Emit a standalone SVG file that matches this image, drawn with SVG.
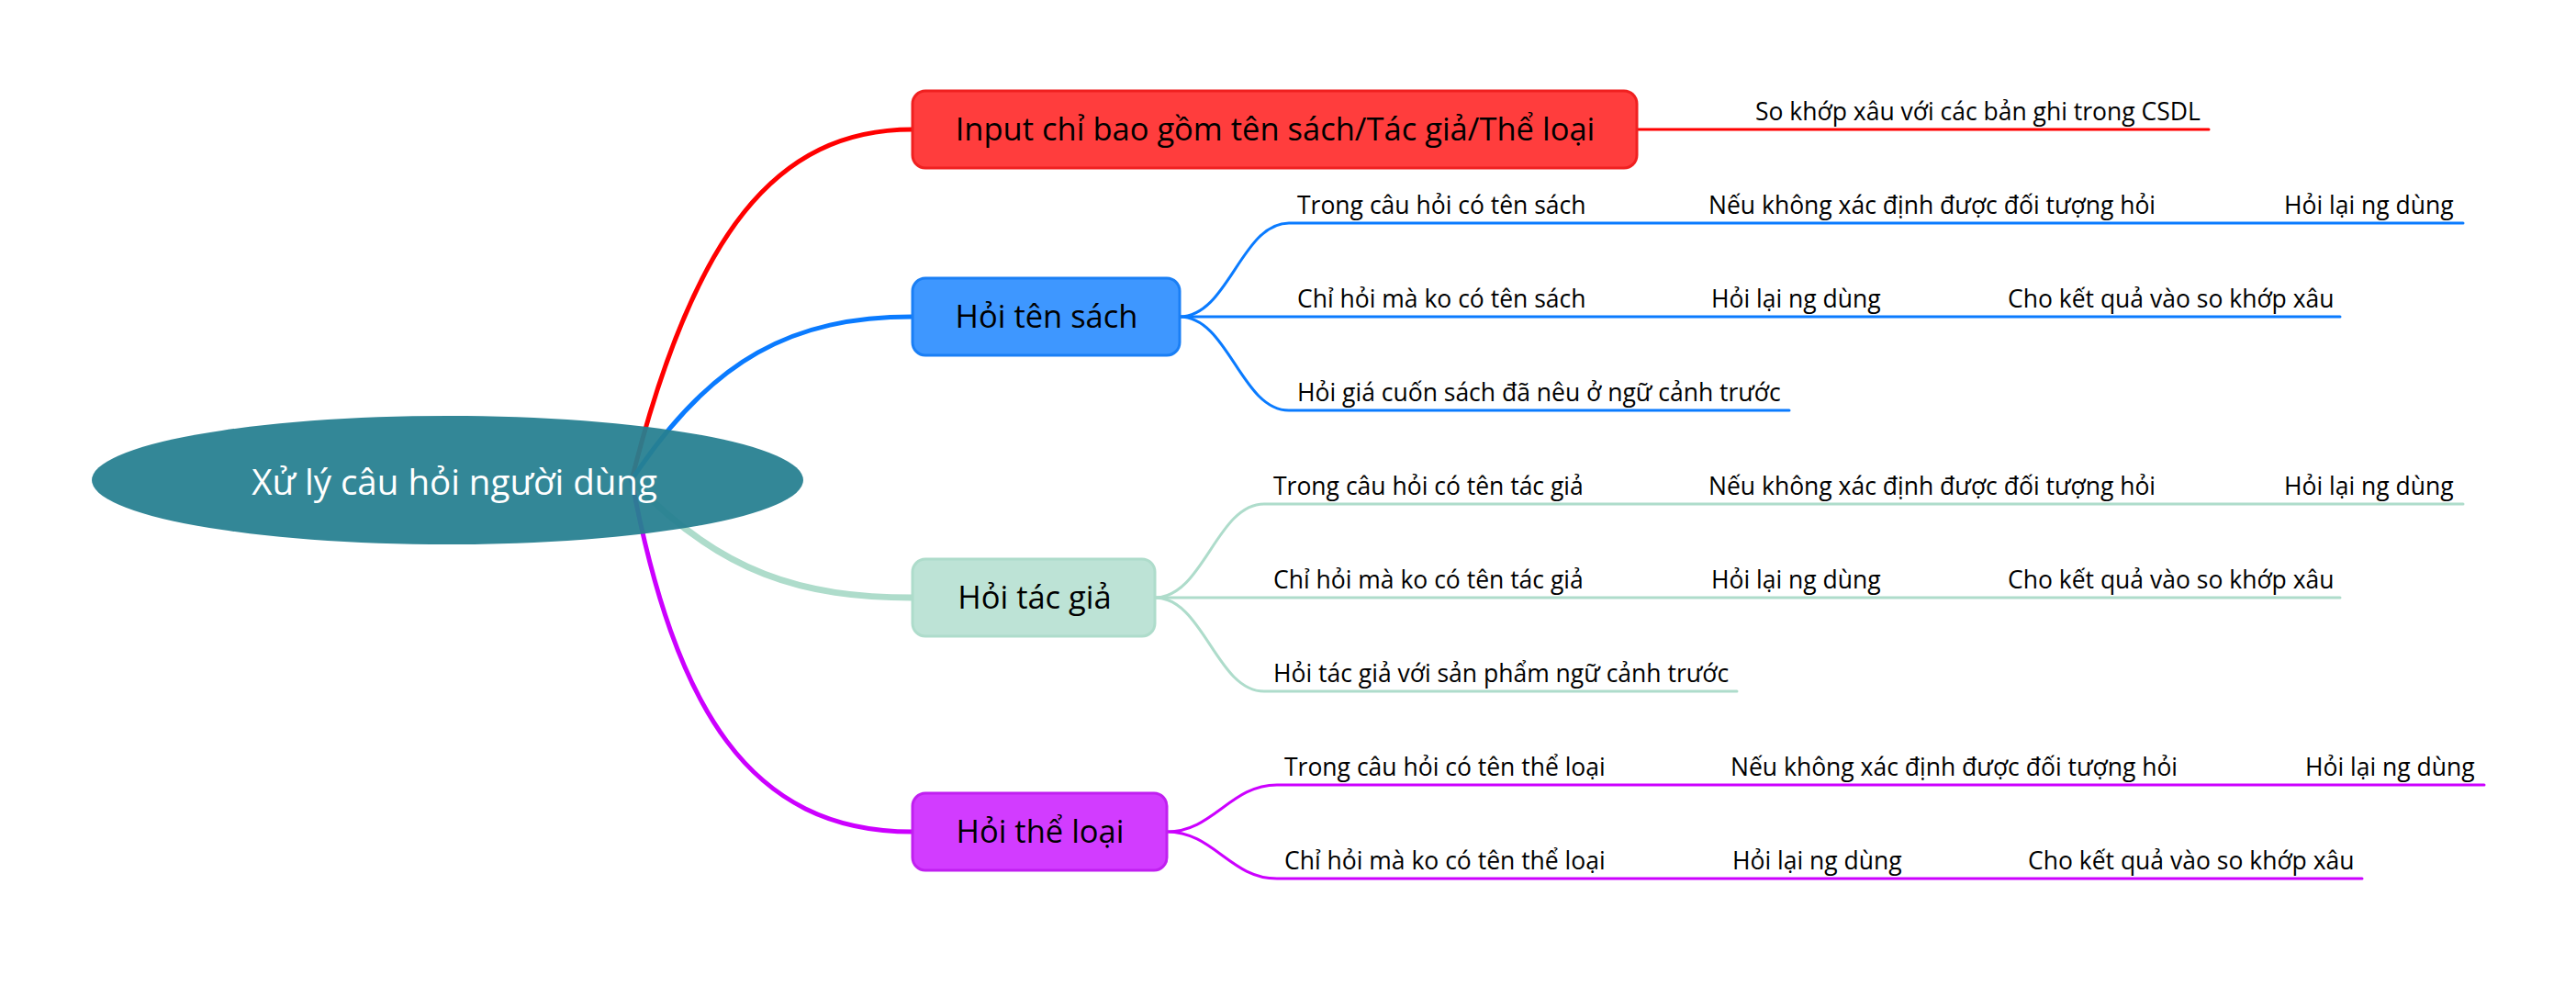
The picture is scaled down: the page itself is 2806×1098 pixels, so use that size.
<svg xmlns="http://www.w3.org/2000/svg" width="2806" height="1098" viewBox="0 0 2806 1098">
<style>
.t{font-family:"Open Sans","Noto Sans","DejaVu Sans",sans-serif;fill:#000}
.s{font-size:26.5px}
.b{font-size:34.5px}
.c{font-size:38.5px;fill:#fff}
.line{fill:none;stroke-linecap:round}
.main{stroke-width:5}
.sub{stroke-width:3}
.red{stroke:#FF0000}
.blue{stroke:#0A7BFF}
.green{stroke:#AEDCCB}
.purple{stroke:#CC00FF}
</style>
<rect width="2806" height="1098" fill="#fff"/>
<g id="connectors">
<path class="line main red" d="M688,523 C755,255 845,141 994,141"/>
<path class="line main blue" d="M688,523 C775,390 865,345 994,345"/>
<path class="line main green" style="stroke-width:7" d="M688,523 C785,625 875,651 994,651"/>
<path class="line main purple" d="M688,523 C735,770 815,906 994,906"/>
<path class="line sub red" d="M1783,141 L2406,141"/>
<path class="line sub blue" d="M1285,345 C1338,345 1352,243 1404,243 L2683,243"/>
<path class="line sub blue" d="M1285,345 L2549,345"/>
<path class="line sub blue" d="M1285,345 C1338,345 1352,447 1404,447 L1949,447"/>
<path class="line sub green" d="M1258,651 C1311,651 1325,549 1377,549 L2683,549"/>
<path class="line sub green" d="M1258,651 L2549,651"/>
<path class="line sub green" d="M1258,651 C1311,651 1325,753 1377,753 L1892,753"/>
<path class="line sub purple" d="M1271,906 C1322,906 1340,855 1391,855 L2706,855"/>
<path class="line sub purple" d="M1271,906 C1322,906 1340,957 1391,957 L2573,957"/>
</g>
<g id="root">
<ellipse cx="487.5" cy="523" rx="387.5" ry="70" fill="#267F91" fill-opacity="0.94"/>
<text class="t c" x="495" y="539" text-anchor="middle">Xử lý câu hỏi người dùng</text>
</g>
<g id="n-input">
<rect x="994" y="99" width="789" height="84" rx="14" fill="#FF3D3D" stroke="#F02020" stroke-width="3"/>
<text class="t b" x="1389" y="153" text-anchor="middle">Input chỉ bao gồm tên sách/Tác giả/Thể loại</text>
</g>
<g id="n-input-1"><text class="t s" x="1912" y="131">So khớp xâu với các bản ghi trong CSDL</text></g>
<g id="n-sach">
<rect x="994" y="303" width="291" height="84" rx="14" fill="#3E97FF" stroke="#1A7FF5" stroke-width="3"/>
<text class="t b" x="1140" y="357" text-anchor="middle">Hỏi tên sách</text>
</g>
<g id="n-sach-1">
<text class="t s" x="1413" y="233">Trong câu hỏi có tên sách</text>
<text class="t s" x="1861" y="233">Nếu không xác định được đối tượng hỏi</text>
<text class="t s" x="2488" y="233">Hỏi lại ng dùng</text>
</g>
<g id="n-sach-2">
<text class="t s" x="1413" y="335">Chỉ hỏi mà ko có tên sách</text>
<text class="t s" x="1864" y="335">Hỏi lại ng dùng</text>
<text class="t s" x="2187" y="335">Cho kết quả vào so khớp xâu</text>
</g>
<g id="n-sach-3">
<text class="t s" x="1413" y="437">Hỏi giá cuốn sách đã nêu ở ngữ cảnh trước</text>
</g>
<g id="n-tacgia">
<rect x="994" y="609" width="264" height="84" rx="14" fill="#BDE3D6" stroke="#AEDCCB" stroke-width="3"/>
<text class="t b" x="1127" y="663" text-anchor="middle">Hỏi tác giả</text>
</g>
<g id="n-tacgia-1">
<text class="t s" x="1387" y="539">Trong câu hỏi có tên tác giả</text>
<text class="t s" x="1861" y="539">Nếu không xác định được đối tượng hỏi</text>
<text class="t s" x="2488" y="539">Hỏi lại ng dùng</text>
</g>
<g id="n-tacgia-2">
<text class="t s" x="1387" y="641">Chỉ hỏi mà ko có tên tác giả</text>
<text class="t s" x="1864" y="641">Hỏi lại ng dùng</text>
<text class="t s" x="2187" y="641">Cho kết quả vào so khớp xâu</text>
</g>
<g id="n-tacgia-3">
<text class="t s" x="1387" y="743">Hỏi tác giả với sản phẩm ngữ cảnh trước</text>
</g>
<g id="n-theloai">
<rect x="994" y="864" width="277" height="84" rx="14" fill="#D23CFF" stroke="#C020F0" stroke-width="3"/>
<text class="t b" x="1133" y="918" text-anchor="middle">Hỏi thể loại</text>
</g>
<g id="n-theloai-1">
<text class="t s" x="1399" y="845">Trong câu hỏi có tên thể loại</text>
<text class="t s" x="1885" y="845">Nếu không xác định được đối tượng hỏi</text>
<text class="t s" x="2511" y="845">Hỏi lại ng dùng</text>
</g>
<g id="n-theloai-2">
<text class="t s" x="1399" y="947">Chỉ hỏi mà ko có tên thể loại</text>
<text class="t s" x="1887" y="947">Hỏi lại ng dùng</text>
<text class="t s" x="2209" y="947">Cho kết quả vào so khớp xâu</text>
</g>
</svg>
